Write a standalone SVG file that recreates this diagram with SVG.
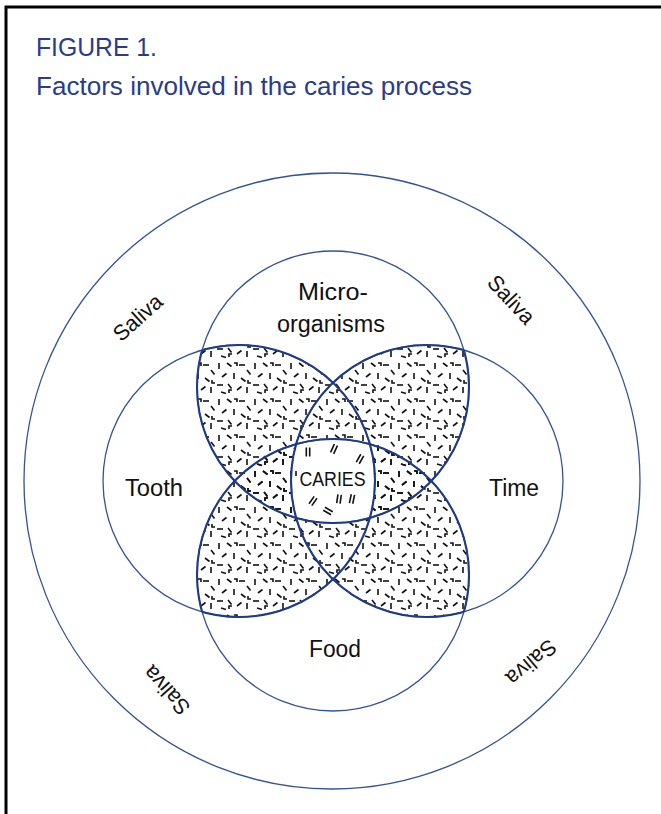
<svg xmlns="http://www.w3.org/2000/svg" xmlns:xlink="http://www.w3.org/1999/xlink" width="661" height="814" viewBox="0 0 661 814">
<style>
.title{font-family:"Liberation Sans Narrow","Liberation Sans",Arial,sans-serif;fill:#2a3b8f;font-size:25px}
.lbl{font-family:"Liberation Sans Narrow","Liberation Sans",Arial,sans-serif;fill:#111;font-size:23px;text-anchor:middle}
.sal{font-family:"Liberation Sans Narrow","Liberation Sans",Arial,sans-serif;fill:#111;font-size:22px;text-anchor:middle}
.thin{fill:none;stroke:#34519b;stroke-width:1.3}
.thick{fill:none;stroke:#1f3a87;stroke-width:2.1}
.dk{stroke:#111;stroke-width:1.6;fill:none;stroke-linecap:butt}
</style>
<defs>
<pattern id="dash" width="36" height="36" patternUnits="userSpaceOnUse">
<g class="dk">
<path d="M3,3 v6"/>
<path d="M11,3 l4.5,3.5"/>
<path d="M23,5 h6"/>
<path d="M31,10 l3.5,4.5"/>
<path d="M6,17 l4.5,-3.5"/>
<path d="M18,13 v6"/>
<path d="M25,18 l4.5,3.5"/>
<path d="M1,25 h6"/>
<path d="M12,24 l3.5,4.5"/>
<path d="M21,30 l4.5,-3.5"/>
<path d="M31,27 v6"/>
<path d="M5,32 l5,1.5"/>
<path d="M18,3 h3 v3"/>
<path d="M32,20 v3 h3"/>
<path d="M13,33 v-3 h3"/>
</g>
</pattern>
<clipPath id="cT"><circle cx="333" cy="387" r="136"/></clipPath>
<clipPath id="cB"><circle cx="333" cy="575" r="136"/></clipPath>
<clipPath id="cL"><circle cx="239" cy="481" r="136"/></clipPath>
<clipPath id="cR"><circle cx="427" cy="481" r="136"/></clipPath>
<clipPath id="cLR"><circle cx="239" cy="481" r="136"/><circle cx="427" cy="481" r="136"/></clipPath>
<clipPath id="cTB"><circle cx="333" cy="387" r="136"/><circle cx="333" cy="575" r="136"/></clipPath>
<path id="dbl" d="M-1.7,-4.5 V4.5 M1.7,-4.5 V4.5" class="dk"/>
</defs>
<rect width="661" height="814" fill="#fff"/>
<path d="M6,814 V7 H661" fill="none" stroke="#000" stroke-width="3"/>
<g id="title">
<text class="title" x="36" y="56" textLength="121" lengthAdjust="spacingAndGlyphs">FIGURE 1.</text>
<text class="title" x="36" y="95" textLength="436" lengthAdjust="spacingAndGlyphs">Factors involved in the caries process</text>
</g>
<g id="saliva">
<circle class="thin" cx="332" cy="481" r="308"/>
<text class="sal" transform="translate(138,318) rotate(-42)" y="7" textLength="58" lengthAdjust="spacingAndGlyphs">Saliva</text>
<text class="sal" transform="translate(511,300) rotate(47)" y="7" textLength="58" lengthAdjust="spacingAndGlyphs">Saliva</text>
<text class="sal" transform="translate(167,690) rotate(-132)" y="7" textLength="58" lengthAdjust="spacingAndGlyphs">Saliva</text>
<text class="sal" transform="translate(531,662) rotate(140)" y="7" textLength="58" lengthAdjust="spacingAndGlyphs">Saliva</text>
</g>
<g id="shading">
<g clip-path="url(#cT)"><rect x="90" y="240" width="490" height="490" fill="url(#dash)" clip-path="url(#cLR)"/></g>
<g clip-path="url(#cB)"><rect x="90" y="240" width="490" height="490" fill="url(#dash)" clip-path="url(#cLR)"/></g>
<g clip-path="url(#cT)"><g clip-path="url(#cB)"><g clip-path="url(#cL)"><rect x="200" y="400" width="260" height="160" fill="#fff" clip-path="url(#cR)"/></g></g></g>
</g>
<g id="connectors">
<circle class="thin" cx="333" cy="387" r="136"/>
<circle class="thin" cx="333" cy="575" r="136"/>
<circle class="thin" cx="239" cy="481" r="136"/>
<circle class="thin" cx="427" cy="481" r="136"/>
<circle class="thick" cx="333" cy="387" r="136" clip-path="url(#cLR)"/>
<circle class="thick" cx="333" cy="575" r="136" clip-path="url(#cLR)"/>
<circle class="thick" cx="239" cy="481" r="136" clip-path="url(#cTB)"/>
<circle class="thick" cx="427" cy="481" r="136" clip-path="url(#cTB)"/>
</g>
<g id="micro"><text class="lbl" x="333" y="300" textLength="70" lengthAdjust="spacingAndGlyphs">Micro-</text><text class="lbl" x="331" y="332" textLength="108" lengthAdjust="spacingAndGlyphs">organisms</text></g>
<g id="tooth"><text class="lbl" x="154" y="496" textLength="58" lengthAdjust="spacingAndGlyphs">Tooth</text></g>
<g id="time"><text class="lbl" x="514" y="496" textLength="50" lengthAdjust="spacingAndGlyphs">Time</text></g>
<g id="food"><text class="lbl" x="335" y="657" textLength="52" lengthAdjust="spacingAndGlyphs">Food</text></g>
<g id="caries">
<use xlink:href="#dbl" transform="translate(308,452)"/>
<use xlink:href="#dbl" transform="translate(334,449) rotate(25)"/>
<use xlink:href="#dbl" transform="translate(360,459) rotate(30)"/>
<use xlink:href="#dbl" transform="translate(313,501) rotate(35)"/>
<use xlink:href="#dbl" transform="translate(339,499) rotate(8)"/>
<use xlink:href="#dbl" transform="translate(352,499) rotate(12)"/>
<use xlink:href="#dbl" transform="translate(328,511) rotate(-60)"/>
<path class="dk" d="M296,471 v5"/>
<text class="lbl" x="332.5" y="486" style="font-size:20px" textLength="66" lengthAdjust="spacingAndGlyphs">CARIES</text>
</g>
</svg>
